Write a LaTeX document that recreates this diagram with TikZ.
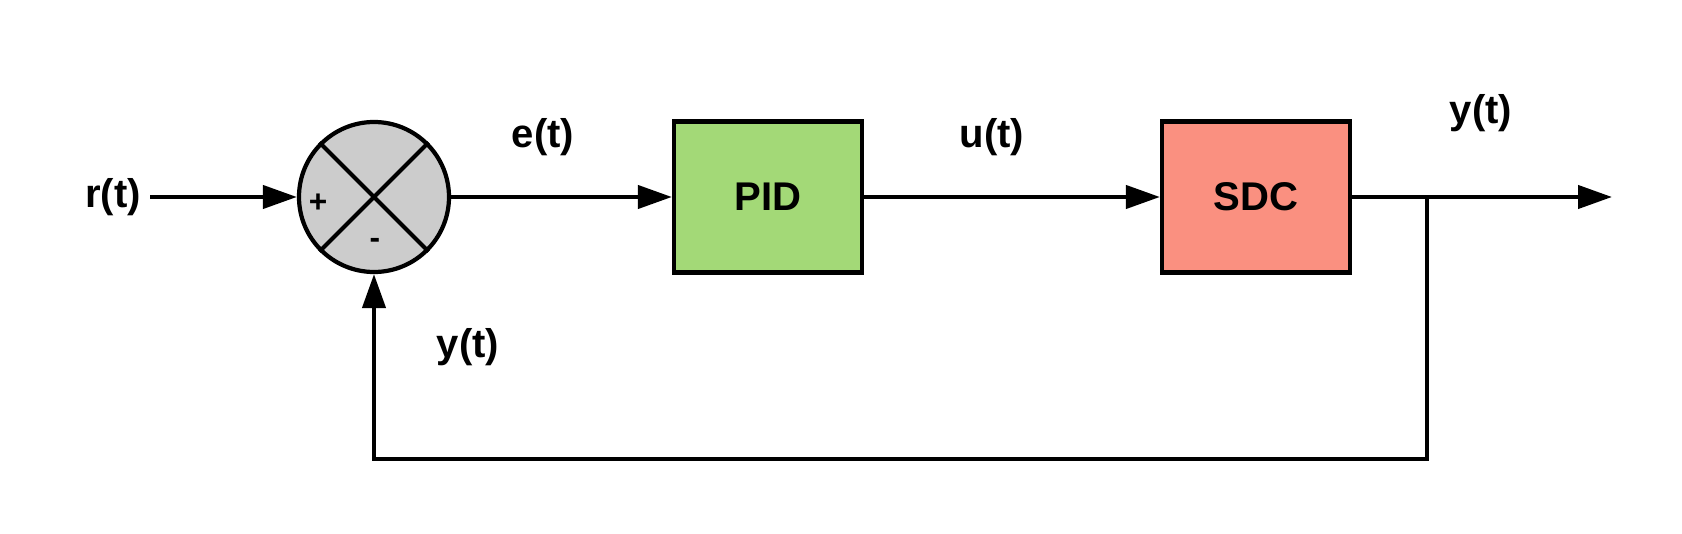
\documentclass[tikz,border=0pt]{standalone}
\usepackage{fontspec}
\setmainfont{Liberation Sans}
\usepackage{tikz}
\usetikzlibrary{arrows.meta, positioning, calc}
\usepackage{xcolor}
\definecolor{pidgreen}{RGB}{163, 217, 119}
\definecolor{sdcred}{RGB}{250, 144, 128}
\definecolor{sumgray}{RGB}{204, 204, 204}

\begin{document}
\begin{tikzpicture}[
  box/.style={draw, line width=1.2pt, minimum width=1.88cm, minimum height=1.51cm,
              font=\fontsize{11.4}{13}\selectfont\bfseries},
  sumnode/.style={draw, circle, line width=1.2pt, fill=sumgray, minimum size=1.5cm,
                  inner sep=0pt},
  lbl/.style={font=\fontsize{11.4}{13}\selectfont\bfseries},
  sgn/.style={font=\fontsize{9}{10}\selectfont\bfseries},
  arr/.style={-{Triangle[length=3.4mm, width=2.3mm]}, line width=1.2pt},
  line/.style={line width=1.2pt}
]
  \useasboundingbox (0, 0) rectangle (16.82, 5.34);

  \node[lbl] (r) at (1.13, 3.37) {r(t)};
  \node[sumnode] (sum) at (3.74, 3.37) {};
  \draw[line] (sum.north west) -- (sum.south east);
  \draw[line] (sum.north east) -- (sum.south west);
  \node[sgn] (plus) at (3.18, 3.31) {+};
  \node[sgn] (minus) at (3.75, 2.91) {-};

  \node[box, fill=pidgreen] (pid) at (7.68, 3.37) {PID};
  \node[box, fill=sdcred] (sdc) at (12.56, 3.37) {SDC};

  \coordinate (start) at (1.50, 3.37);
  \coordinate (branch) at (14.27, 3.37);
  \coordinate (out) at (16.12, 3.37);
  \coordinate (low) at (14.27, 0.75);
  \coordinate (back) at (3.74, 0.75);

  \draw[arr] (start) -- (sum);
  \draw[arr] (sum) -- (pid);
  \draw[arr] (pid) -- (sdc);
  \draw[arr] (sdc) -- (out);
  \draw[arr] (branch) -- (low) -- (back) -- (sum);

  \node[lbl] (e) at (5.43, 3.97) {e(t)};
  \node[lbl] (u) at (9.92, 3.97) {u(t)};
  \node[lbl] (y) at (14.81, 4.21) {y(t)};
  \node[lbl] (yfb) at (4.68, 1.87) {y(t)};
\end{tikzpicture}
\end{document}
